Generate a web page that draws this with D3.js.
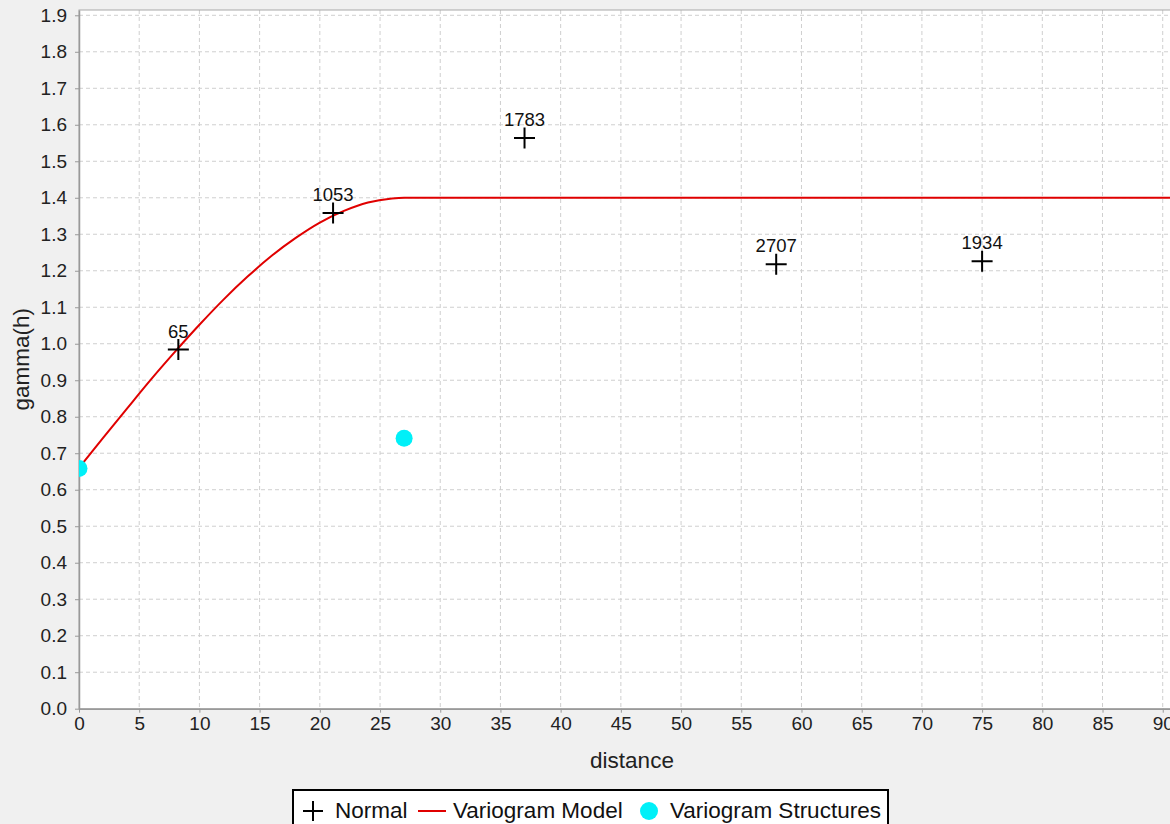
<!DOCTYPE html>
<html>
<head>
<meta charset="utf-8">
<script src="https://cdn.jsdelivr.net/npm/d3@7"></script>
<style>
html,body{margin:0;padding:0;background:#f0f0f0;}
svg{display:block;font-family:"Liberation Sans",Arial,sans-serif;}
</style>
</head>
<body>
<svg id="chart" width="1170" height="824"></svg>
<script>
// ---- data ----
const normalDistance = [8.25, 21.1, 37.0, 57.9, 75.0];
const normalGamma    = [0.984, 1.358, 1.564, 1.218, 1.226];
const normalPairs    = ["65", "1053", "1783", "2707", "1934"];

const modelDistance = [0, 2, 4, 6, 8, 10, 12, 14, 16, 18, 20, 22, 24, 26, 27, 95];
const modelGamma    = [0.66, 0.742, 0.823, 0.903, 0.979, 1.052, 1.121, 1.184, 1.241, 1.290, 1.332, 1.364, 1.387, 1.398, 1.4, 1.4];

const structDistance = [0, 27.0];
const structGamma    = [0.658, 0.741];

const xTicks = [0,5,10,15,20,25,30,35,40,45,50,55,60,65,70,75,80,85,90];
const yTicks = [0.0,0.1,0.2,0.3,0.4,0.5,0.6,0.7,0.8,0.9,1.0,1.1,1.2,1.3,1.4,1.5,1.6,1.7,1.8,1.9];
const legendItems = ["Normal", "Variogram Model", "Variogram Structures"];

// ---- layout ----
const L = 79, R = 1185, T = 10, B = 708.7;
const svg = d3.select("#chart");
const x = d3.scaleLinear().domain([0, 91.85]).range([L, R]);
const y = d3.scaleLinear().domain([0, 1.9145]).range([B, T]);

svg.append("rect").attr("x", L).attr("y", T).attr("width", R - L).attr("height", B - T)
  .attr("fill", "#ffffff");

svg.append("defs").append("clipPath").attr("id", "plotclip")
  .append("rect").attr("x", L).attr("y", T).attr("width", R - L).attr("height", B - T);

// grid
const grid = svg.append("g");
grid.selectAll("line.vx").data(xTicks.filter(d => d > 0)).join("line")
  .attr("x1", d => x(d)).attr("x2", d => x(d)).attr("y1", T).attr("y2", B)
  .attr("stroke", "#cfcfcf").attr("stroke-width", 1).attr("stroke-dasharray", "4,3");
grid.selectAll("line.hy").data(yTicks.filter(d => d > 0)).join("line")
  .attr("x1", L).attr("x2", R).attr("y1", d => y(d)).attr("y2", d => y(d))
  .attr("stroke", "#cfcfcf").attr("stroke-width", 1).attr("stroke-dasharray", "4,3");

// outline
svg.append("rect").attr("x", L).attr("y", T).attr("width", R - L).attr("height", B - T)
  .attr("fill", "none").attr("stroke", "#a8a8a8").attr("stroke-width", 1);

// axes
const xAxis = d3.axisBottom(x).tickValues(xTicks).tickFormat(d3.format("d")).tickSizeInner(4).tickSizeOuter(0).tickPadding(4);
const gx = svg.append("g").attr("transform", `translate(0,${B})`).call(xAxis);
gx.select(".domain").attr("stroke", "#999").attr("stroke-width", 1.5);
gx.selectAll(".tick line").attr("stroke", "#999");
gx.selectAll(".tick text").attr("font-size", 19).attr("fill", "#222").attr("font-family", "Liberation Sans, Arial, sans-serif");

const yAxis = d3.axisLeft(y).tickValues(yTicks).tickFormat(d3.format(".1f")).tickSizeInner(4).tickSizeOuter(0).tickPadding(8);
const gy = svg.append("g").attr("transform", `translate(${L},0)`).call(yAxis);
gy.select(".domain").attr("stroke", "#999").attr("stroke-width", 1.5);
gy.selectAll(".tick line").attr("stroke", "#999");
gy.selectAll(".tick text").attr("font-size", 19).attr("fill", "#222").attr("font-family", "Liberation Sans, Arial, sans-serif");

// axis titles
svg.append("text").attr("x", 632).attr("y", 768).attr("text-anchor", "middle")
  .attr("font-size", 22.5).attr("fill", "#222").text("distance");
svg.append("text").attr("transform", `translate(29,${(T + B) / 2}) rotate(-90)`).attr("text-anchor", "middle")
  .attr("font-size", 22.5).attr("fill", "#222").text("gamma(h)");

const plot = svg.append("g").attr("clip-path", "url(#plotclip)");

// model line
const modelData = modelDistance.map((d, i) => [d, modelGamma[i]]);
plot.append("path").datum(modelData)
  .attr("d", d3.line().x(d => x(d[0])).y(d => y(d[1])).curve(d3.curveMonotoneX))
  .attr("fill", "none").attr("stroke", "#e00000").attr("stroke-width", 2);

// structures
plot.selectAll("circle.s").data(structDistance.map((d, i) => [d, structGamma[i]])).join("circle")
  .attr("cx", d => x(d[0])).attr("cy", d => y(d[1])).attr("r", 8.5).attr("fill", "#00f0f8");

// normal crosses
const nd = normalDistance.map((d, i) => ({x: normalDistance[i], y: normalGamma[i], label: normalPairs[i]}));
const cross = plot.selectAll("g.cross").data(nd).join("g")
  .attr("transform", d => `translate(${x(d.x)},${y(d.y)})`);
cross.append("path").attr("d", "M-10.5,0H10.5M0,-10.5V10.5").attr("stroke", "#000").attr("stroke-width", 2).attr("fill", "none");
cross.append("text").attr("y", -12).attr("text-anchor", "middle").attr("font-size", 18.5).attr("fill", "#111")
  .text(d => d.label);

// legend
const lg = svg.append("g");
lg.append("rect").attr("x", 293).attr("y", 790).attr("width", 595).attr("height", 44)
  .attr("fill", "#fff").attr("stroke", "#000").attr("stroke-width", 2);
const ly = 811;
lg.append("path").attr("d", `M303,${ly}H323M313,${ly - 10}V${ly + 10}`).attr("stroke", "#000").attr("stroke-width", 2);
lg.append("text").attr("x", 335).attr("y", 818).attr("font-size", 22.5).attr("fill", "#111").text(legendItems[0]);
lg.append("line").attr("x1", 418).attr("x2", 446).attr("y1", ly).attr("y2", ly).attr("stroke", "#e00000").attr("stroke-width", 2);
lg.append("text").attr("x", 453).attr("y", 818).attr("font-size", 22.5).attr("fill", "#111").text(legendItems[1]);
lg.append("circle").attr("cx", 649).attr("cy", ly).attr("r", 9).attr("fill", "#00f0f8");
lg.append("text").attr("x", 670).attr("y", 818).attr("font-size", 22.5).attr("fill", "#111").text(legendItems[2]);
</script>
</body>
</html>
